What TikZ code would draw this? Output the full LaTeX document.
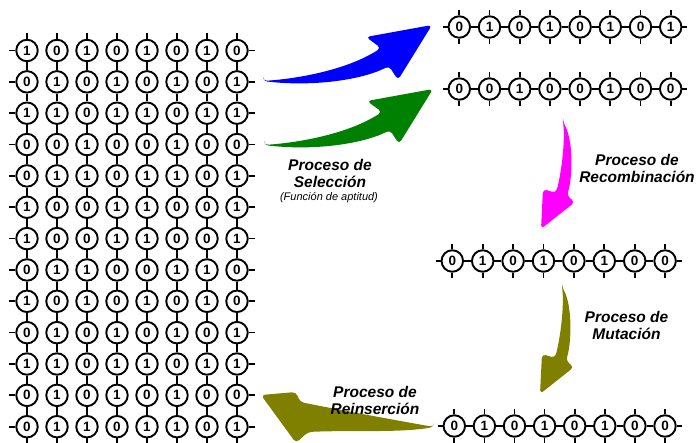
\documentclass[tikz,border=0pt]{standalone}
\usepackage{fontspec}
\setmainfont{Liberation Sans}
\usepackage{xcolor}
\usepackage{tikz}
\usetikzlibrary{positioning}
\definecolor{selblue}{HTML}{0000FF}
\definecolor{selgreen}{HTML}{008000}
\definecolor{recpink}{HTML}{FF00FF}
\definecolor{mutolive}{HTML}{808000}

\begin{document}
\begin{tikzpicture}[x=1pt,y=-1pt,
  bit/.style={draw,circle,line width=1.9pt,minimum size=21.5pt,inner sep=0pt,font=\fontsize{13.5}{13.5}\selectfont\bfseries},
  link/.style={line width=1.7pt},
  lbl/.style={align=center,font=\fontsize{15.5}{17}\selectfont\bfseries\itshape},
  note/.style={font=\fontsize{11}{11}\selectfont\itshape},
  swoosh/.style={rounded corners=4pt}]
\useasboundingbox (0,0) rectangle (696,443);
\foreach \row [count=\r] in {{1,0,1,0,1,0,1,0},{0,1,0,1,0,1,0,1},{1,1,0,1,1,0,1,1},{0,0,1,0,0,1,0,0},{0,1,1,0,1,1,0,1},{1,0,0,1,1,0,0,1},{1,0,0,1,1,0,0,1},{0,1,1,0,0,1,1,0},{1,0,1,0,1,0,1,0},{0,1,0,1,0,1,0,1},{1,1,0,1,1,0,1,1},{0,1,0,1,0,1,0,0},{0,1,1,0,1,1,0,1}}
  \foreach \b [count=\c] in \row
    \node[bit] (g-\r-\c) at ({27+30*(\c-1)},{50.5+31.35*(\r-1)}) {\b};
\foreach \r in {1,...,13}
  \foreach \c [evaluate=\c as \n using int(\c+1)] in {1,...,7}
    \draw[link] (g-\r-\c) -- (g-\r-\n);
\foreach \r [evaluate=\r as \n using int(\r+1)] in {1,...,12}
  \foreach \c in {1,...,8}
    \draw[link] (g-\r-\c) -- (g-\n-\c);
\foreach \r in {1,...,13} {
  \draw[link] (g-\r-1.west) -- ++(-6,0);
  \draw[link] (g-\r-8.east) -- ++(6,0);
}
\foreach \c in {1,...,8} {
  \draw[link] (g-1-\c.north) -- ++(0,-6);
  \draw[link] (g-13-\c.south) -- ++(0,6);
}
\foreach \b [count=\i] in {0,1,0,1,0,1,0,1}
  \node[bit] (selA-\i) at ({459.3+30.2*(\i-1)},27) {\b};
\foreach \b [count=\i] in {0,0,1,0,0,1,0,0}
  \node[bit] (selB-\i) at ({459.3+30.2*(\i-1)},89) {\b};
\foreach \b [count=\i] in {0,1,0,1,0,1,0,0}
  \node[bit] (rec-\i) at ({452.3+30.4*(\i-1)},261) {\b};
\foreach \b [count=\i] in {0,1,0,1,0,1,0,0}
  \node[bit] (mut-\i) at ({454.3+30.1*(\i-1)},426) {\b};
\foreach \nm in {selA,selB,rec,mut} {
  \foreach \i [evaluate=\i as \n using int(\i+1)] in {1,...,7}
    \draw[link] (\nm-\i) -- (\nm-\n);
  \foreach \i in {1,...,8} {
    \draw[link] (\nm-\i.north) -- ++(0,-5);
    \draw[link] (\nm-\i.south) -- ++(0,5);
  }
  \draw[link] (\nm-1.west) -- ++(-5,0);
  \draw[link] (\nm-8.east) -- ++(5,0);
}
\fill[selblue,swoosh] (263,81) .. controls (305,78) and (350,68) .. (381,48) -- (366,37) -- (432,25) -- (398,80) -- (389,66) .. controls (362,80) and (312,87) .. cycle;
\fill[selgreen,swoosh,shift={(1,64)}] (263,81) .. controls (305,78) and (350,68) .. (381,48) -- (366,37) -- (432,25) -- (398,80) -- (389,66) .. controls (362,80) and (312,87) .. cycle;
\fill[recpink,swoosh] (563,122) .. controls (573,140) and (573,175) .. (567,196) -- (575,202) -- (541,229) -- (543,189) -- (556,193) .. controls (562,170) and (565,140) .. cycle;
\fill[mutolive,swoosh,shift={(-1,165)}] (563,122) .. controls (573,140) and (573,175) .. (567,196) -- (575,202) -- (541,229) -- (543,189) -- (556,193) .. controls (562,170) and (565,140) .. cycle;
\fill[mutolive,swoosh] (434,427) .. controls (400,421) and (340,410) .. (300,402) -- (296,392) -- (261,395) -- (296,443) -- (308,432) .. controls (350,430) and (400,433) .. cycle;
\node[lbl] (selLbl) at (330,173) {Proceso de\\Selección};
\node[note] (selNote) at (329,198) {(Función de aptitud)};
\node[lbl] (recLbl) at (637,168) {Proceso de\\Recombinación};
\node[lbl] (mutLbl) at (626.5,325) {Proceso de\\Mutación};
\node[lbl] (reinLbl) at (375,400) {Proceso de\\Reinserción};
\end{tikzpicture}
\end{document}
